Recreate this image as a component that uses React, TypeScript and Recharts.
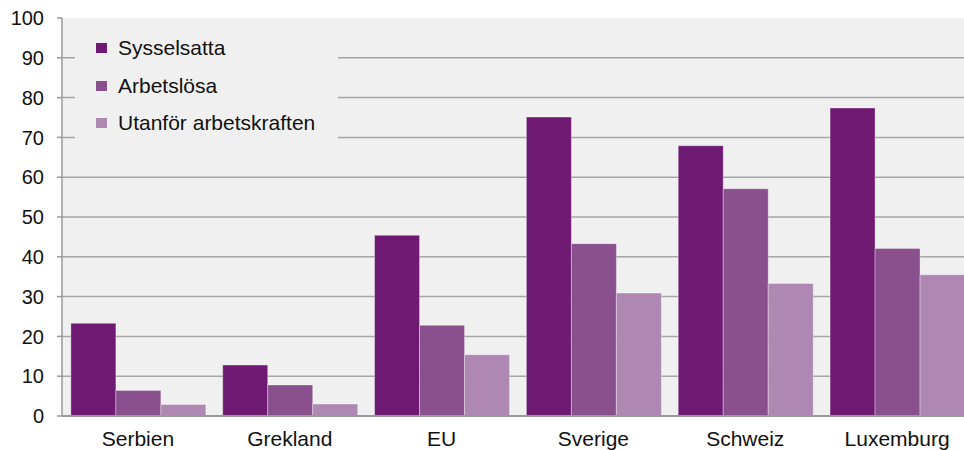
import React from "react";
import { BarChart, Bar, XAxis, YAxis, CartesianGrid } from "recharts";

/* ─── Data ─────────────────────────── */
const categories = ["Serbien", "Grekland", "EU", "Sverige", "Schweiz", "Luxemburg"];
const sysselsatta = [23.3, 12.8, 45.4, 75.1, 67.9, 77.4];
const arbetslosa = [6.4, 7.8, 22.8, 43.3, 57.1, 42.1];
const utanfor = [2.9, 3.0, 15.4, 30.9, 33.3, 35.5];
const yTicks = [0, 10, 20, 30, 40, 50, 60, 70, 80, 90, 100];

const series = [
  { key: "sysselsatta", name: "Sysselsatta", color: "#6e1a72" },
  { key: "arbetslosa", name: "Arbetslösa", color: "#8a508d" },
  { key: "utanfor", name: "Utanför arbetskraften", color: "#ae88b3" },
];

const data = categories.map((c, i) => ({
  name: c,
  sysselsatta: sysselsatta[i],
  arbetslosa: arbetslosa[i],
  utanfor: utanfor[i],
}));

const FONT = "'Liberation Sans', Arial, sans-serif";

export default function App() {
  return (
    <div style={{ position: "absolute", left: 0, top: 0, width: 964, height: 450, overflow: "hidden", background: "#fff" }}>
      <BarChart
        width={980}
        height={450}
        data={data}
        margin={{ top: 18, right: 7, left: 0, bottom: 0 }}
        barCategoryGap="5.85%"
        barGap={0}
      >
        <CartesianGrid vertical={false} fill="#f0f0f0" stroke="#a6a6a6" strokeWidth={1.5} horizontalValues={[10, 20, 30, 40, 50, 60, 70, 80, 90]} />
        <XAxis
          dataKey="name"
          height={34}
          tick={{ fontSize: 21, fill: "#111", fontFamily: FONT }}
          tickLine={false}
          tickMargin={9}
          axisLine={{ stroke: "#999", strokeWidth: 2 }}
        />
        <YAxis
          width={62}
          domain={[0, 100]}
          ticks={yTicks}
          tick={{ fontSize: 20, fill: "#111", fontFamily: FONT }}
          tickSize={5}
          tickMargin={13}
          tickLine={{ stroke: "#999", strokeWidth: 1.5 }}
          axisLine={{ stroke: "#999", strokeWidth: 1.5 }}
        />
        {series.map((s) => (
          <Bar
            key={s.key}
            dataKey={s.key}
            name={s.name}
            fill={s.color}
            stroke="#ffffff"
            strokeOpacity={0.35}
            strokeWidth={1}
            isAnimationActive={false}
          />
        ))}
      </BarChart>
      {/* legend box over the plot, hides the gridlines behind it */}
      <div
        style={{
          position: "absolute", left: 75, top: 24, width: 263, height: 120,
          background: "#f0f0f0", fontFamily: FONT, fontSize: 21, color: "#111",
        }}
      >
        {series.map((s, i) => (
          <div key={s.key} style={{ position: "absolute", left: 21, top: 24 + i * 37.7 - 12, height: 24, display: "flex", alignItems: "center", whiteSpace: "nowrap" }}>
            <span style={{ display: "inline-block", width: 11, height: 10, background: s.color, marginRight: 11 }} />
            <span>{s.name}</span>
          </div>
        ))}
      </div>
    </div>
  );
}
